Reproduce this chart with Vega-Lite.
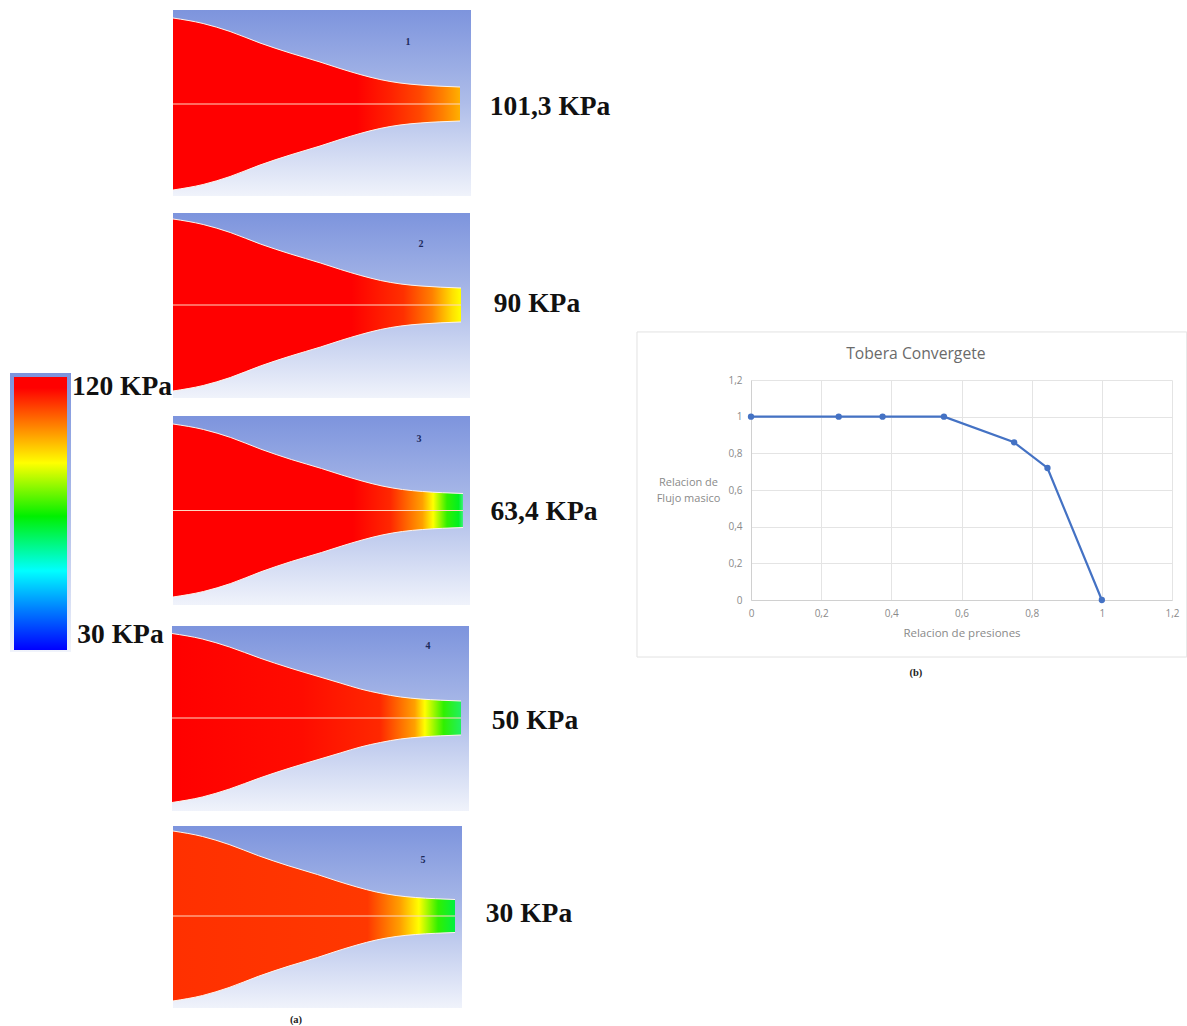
{
"$schema":"https://vega.github.io/schema/vega-lite/v6.json",
"padding":0,
"background":"#ffffff",
"config":{"view":{"stroke":null},"concat":{"spacing":0}},
"bounds":"flush",
"spacing":0,
"datasets":{
"frames":[
{"x":173,"x2":471,"y":10,"y2":196},
{"x":173,"x2":470,"y":213,"y2":398},
{"x":173,"x2":470,"y":416,"y2":605},
{"x":172,"x2":469,"y":626,"y2":811},
{"x":173,"x2":462,"y":826,"y2":1008},
{"x":10,"x2":71,"y":373,"y2":652}
],
"nozzles":[
{"panel":1,"x":173,"y":18,"y2":190},{"panel":1,"x":203.1,"y":23.5,"y2":184.5},{"panel":1,"x":230.1,"y":31.5,"y2":176.5},{"panel":1,"x":260,"y":43,"y2":165},{"panel":1,"x":290.1,"y":53,"y2":155},{"panel":1,"x":320,"y":62,"y2":146},{"panel":1,"x":340,"y":68.5,"y2":139.5},{"panel":1,"x":360.1,"y":74.5,"y2":133.5},{"panel":1,"x":379.9,"y":79.5,"y2":128.5},{"panel":1,"x":400,"y":83,"y2":125},{"panel":1,"x":420.1,"y":85,"y2":123},{"panel":1,"x":439.9,"y":86.2,"y2":121.8},{"panel":1,"x":460,"y":87,"y2":121},
{"panel":2,"x":173,"y":219,"y2":391},{"panel":2,"x":203.2,"y":224.5,"y2":385.5},{"panel":2,"x":230.3,"y":232.5,"y2":377.5},{"panel":2,"x":260.3,"y":244,"y2":366},{"panel":2,"x":290.5,"y":254,"y2":356},{"panel":2,"x":320.5,"y":263,"y2":347},{"panel":2,"x":340.6,"y":269.5,"y2":340.5},{"panel":2,"x":360.8,"y":275.5,"y2":334.5},{"panel":2,"x":380.6,"y":280.5,"y2":329.5},{"panel":2,"x":400.8,"y":284,"y2":326},{"panel":2,"x":421,"y":286,"y2":324},{"panel":2,"x":440.8,"y":287.2,"y2":322.8},{"panel":2,"x":461,"y":288,"y2":322},
{"panel":3,"x":173,"y":424,"y2":597},{"panel":3,"x":203.5,"y":429.5,"y2":591.5},{"panel":3,"x":230.7,"y":437.5,"y2":583.5},{"panel":3,"x":260.9,"y":449.2,"y2":571.8},{"panel":3,"x":291.3,"y":459.5,"y2":561.5},{"panel":3,"x":321.5,"y":468.5,"y2":552.5},{"panel":3,"x":341.8,"y":475,"y2":546},{"panel":3,"x":362.1,"y":481,"y2":540},{"panel":3,"x":382.1,"y":486,"y2":535},{"panel":3,"x":402.4,"y":489.5,"y2":531.5},{"panel":3,"x":422.7,"y":491.5,"y2":529.5},{"panel":3,"x":442.7,"y":492.7,"y2":528.3},{"panel":3,"x":463,"y":493.5,"y2":527.5},
{"panel":4,"x":172,"y":633.5,"y2":802.5},{"panel":4,"x":202.3,"y":639,"y2":797},{"panel":4,"x":229.5,"y":647,"y2":789},{"panel":4,"x":259.6,"y":658,"y2":778},{"panel":4,"x":289.9,"y":668,"y2":768},{"panel":4,"x":320,"y":677,"y2":759},{"panel":4,"x":340.2,"y":683,"y2":753},{"panel":4,"x":360.4,"y":689,"y2":747},{"panel":4,"x":380.4,"y":693.5,"y2":742.5},{"panel":4,"x":400.6,"y":697,"y2":739},{"panel":4,"x":420.8,"y":699,"y2":737},{"panel":4,"x":440.8,"y":700.2,"y2":735.8},{"panel":4,"x":461,"y":701,"y2":735},
{"panel":5,"x":173,"y":831,"y2":1001},{"panel":5,"x":202.6,"y":836.5,"y2":995.5},{"panel":5,"x":229.1,"y":844.5,"y2":987.5},{"panel":5,"x":258.4,"y":855.7,"y2":976.3},{"panel":5,"x":288.1,"y":865.7,"y2":966.3},{"panel":5,"x":317.4,"y":874.5,"y2":957.5},{"panel":5,"x":337.1,"y":881,"y2":951},{"panel":5,"x":356.9,"y":887,"y2":945},{"panel":5,"x":376.3,"y":892,"y2":940},{"panel":5,"x":396.1,"y":895.5,"y2":936.5},{"panel":5,"x":415.8,"y":897.5,"y2":934.5},{"panel":5,"x":435.3,"y":898.7,"y2":933.3},{"panel":5,"x":455,"y":899.5,"y2":932.5}
],
"axes":[
{"x":173,"x2":460,"y":104},{"x":173,"x2":461,"y":305},{"x":173,"x2":463,"y":510.5},{"x":172,"x2":461,"y":718},{"x":173,"x2":455,"y":916}
],
"numbers":[
{"x":408,"y":42,"label":"1"},{"x":421,"y":244,"label":"2"},{"x":419,"y":439,"label":"3"},{"x":428,"y":646,"label":"4"},{"x":423,"y":860,"label":"5"}
],
"labels":[
{"x":550,"y":107,"label":"101,3 KPa"},{"x":537,"y":304,"label":"90 KPa"},{"x":544,"y":512,"label":"63,4 KPa"},{"x":535,"y":721,"label":"50 KPa"},{"x":529,"y":914,"label":"30 KPa"},{"x":122,"y":387,"label":"120 KPa"},{"x":120.5,"y":635,"label":"30 KPa"}
]
},
"hconcat":[
{
"width":751,"height":1026,
"encoding":{
"x":{"field":"x","type":"quantitative","scale":{"domain":[0,751],"nice":false,"zero":false},"axis":null},
"y":{"field":"y","type":"quantitative","scale":{"domain":[0,1026],"reverse":true,"nice":false,"zero":false},"axis":null}
},
"layer":[
{"data":{"name":"frames"},"mark":{"type":"rect","color":{"gradient":"linear","x1":0,"y1":0,"x2":0,"y2":1,"stops":[{"offset":0,"color":"#7d94dd"},{"offset":0.5,"color":"#aebde9"},{"offset":1,"color":"#f0f3fb"}]}},"encoding":{"x2":{"field":"x2"},"y2":{"field":"y2"}}},
{"data":{"values":[{"x":14,"x2":67,"y":377,"y2":650}]},"mark":{"type":"rect","color":{"gradient":"linear","x1":0,"y1":0,"x2":0,"y2":1,"stops":[{"offset":0,"color":"#ff0000"},{"offset":0.04,"color":"#ff0000"},{"offset":0.16,"color":"#ff7000"},{"offset":0.315,"color":"#ffff00"},{"offset":0.51,"color":"#00f000"},{"offset":0.71,"color":"#00ffff"},{"offset":0.85,"color":"#0080ff"},{"offset":1,"color":"#0000ff"}]}},"encoding":{"x2":{"field":"x2"},"y2":{"field":"y2"}}},
{"data":{"name":"nozzles"},"transform":[{"filter":"datum.panel==1"}],"mark":{"type":"area","interpolate":"monotone","color":{"gradient":"linear","x1":0,"y1":0,"x2":1,"y2":0,"stops":[{"offset":0,"color":"#ff0000"},{"offset":0.64,"color":"#ff0000"},{"offset":0.76,"color":"#ff2200"},{"offset":0.86,"color":"#ff4800"},{"offset":0.94,"color":"#ff8000"},{"offset":1,"color":"#ffb000"}]}},"encoding":{"y2":{"field":"y2"}}},
{"data":{"name":"nozzles"},"transform":[{"filter":"datum.panel==2"}],"mark":{"type":"area","interpolate":"monotone","color":{"gradient":"linear","x1":0,"y1":0,"x2":1,"y2":0,"stops":[{"offset":0,"color":"#ff0000"},{"offset":0.62,"color":"#ff0000"},{"offset":0.8,"color":"#ff3000"},{"offset":0.9,"color":"#ff8000"},{"offset":0.97,"color":"#ffe000"},{"offset":1,"color":"#ffff00"}]}},"encoding":{"y2":{"field":"y2"}}},
{"data":{"name":"nozzles"},"transform":[{"filter":"datum.panel==3"}],"mark":{"type":"area","interpolate":"monotone","color":{"gradient":"linear","x1":0,"y1":0,"x2":1,"y2":0,"stops":[{"offset":0,"color":"#ff0000"},{"offset":0.62,"color":"#ff0000"},{"offset":0.75,"color":"#ff2800"},{"offset":0.86,"color":"#ffa000"},{"offset":0.897,"color":"#ffff00"},{"offset":0.945,"color":"#30f000"},{"offset":0.985,"color":"#00f020"},{"offset":1,"color":"#40f080"}]}},"encoding":{"y2":{"field":"y2"}}},
{"data":{"name":"nozzles"},"transform":[{"filter":"datum.panel==4"}],"mark":{"type":"area","interpolate":"monotone","color":{"gradient":"linear","x1":0,"y1":0,"x2":1,"y2":0,"stops":[{"offset":0,"color":"#ff0000"},{"offset":0.45,"color":"#ff0c00"},{"offset":0.72,"color":"#ff2800"},{"offset":0.84,"color":"#ffa000"},{"offset":0.875,"color":"#ffff00"},{"offset":0.94,"color":"#30f000"},{"offset":1,"color":"#20f060"}]}},"encoding":{"y2":{"field":"y2"}}},
{"data":{"name":"nozzles"},"transform":[{"filter":"datum.panel==5"}],"mark":{"type":"area","interpolate":"monotone","color":{"gradient":"linear","x1":0,"y1":0,"x2":1,"y2":0,"stops":[{"offset":0,"color":"#ff3000"},{"offset":0.69,"color":"#ff3800"},{"offset":0.806,"color":"#ffa000"},{"offset":0.872,"color":"#ffff00"},{"offset":0.94,"color":"#30f000"},{"offset":1,"color":"#00f040"}]}},"encoding":{"y2":{"field":"y2"}}},
{"data":{"name":"nozzles"},"mark":{"type":"line","interpolate":"monotone","color":"#fff4ea","strokeWidth":1},"encoding":{"detail":{"field":"panel"}}},
{"data":{"name":"nozzles"},"mark":{"type":"line","interpolate":"monotone","color":"#fff4ea","strokeWidth":1},"encoding":{"detail":{"field":"panel"},"y":{"field":"y2","type":"quantitative","scale":{"domain":[0,1026],"reverse":true,"nice":false,"zero":false},"axis":null}}},
{"data":{"name":"axes"},"mark":{"type":"rule","color":"#ffd8c0","strokeWidth":1},"encoding":{"x2":{"field":"x2"}}},
{"data":{"name":"numbers"},"mark":{"type":"text","font":"Liberation Serif","fontWeight":"bold","fontSize":10,"color":"#1c2a5c","align":"center","baseline":"middle"},"encoding":{"text":{"field":"label"}}},
{"data":{"name":"labels"},"mark":{"type":"text","font":"Liberation Serif","fontWeight":"bold","fontSize":27.5,"color":"#111111","align":"center","baseline":"middle"},"encoding":{"text":{"field":"label"}}},
{"data":{"values":[{"x":296,"y":1020,"label":"(a)"}]},"mark":{"type":"text","font":"Liberation Serif","fontWeight":"bold","fontSize":10.5,"color":"#222222","align":"center","baseline":"middle"},"encoding":{"text":{"field":"label"}}}
]
},
{
"bounds":"flush",
"spacing":0,
"vconcat":[
{"width":421,"height":380,"data":{"values":[{"label":""}]},"mark":{"type":"text"},"encoding":{"text":{"field":"label"}}},
{
"width":421,"height":220,
"encoding":{
"x":{"field":"x","type":"quantitative","title":"Relacion de presiones","scale":{"domain":[0,1.2],"nice":false,"zero":false},
"axis":{"values":[0,0.2,0.4,0.6,0.8,1,1.2],"labelExpr":"replace(format(datum.value,'~g'),'.',',')","labelFont":"Open Sans","labelFontSize":10,"labelColor":"#8a8a8a","titleFont":"Open Sans","titleFontSize":11.5,"titleFontWeight":"normal","titleColor":"#8a8a8a","titlePadding":9,"labelPadding":8,"ticks":false,"domainColor":"#d0d0d0","gridColor":"#e4e4e4","grid":true,"labelFlush":false}},
"y":{"field":"y","type":"quantitative","title":["Relacion de","Flujo masico"],"scale":{"domain":[0,1.2],"nice":false,"zero":false},
"axis":{"values":[0,0.2,0.4,0.6,0.8,1,1.2],"labelExpr":"replace(format(datum.value,'~g'),'.',',')","labelFont":"Open Sans","labelFontSize":10,"labelColor":"#8a8a8a","titleFont":"Open Sans","titleFontSize":11,"titleFontWeight":"normal","titleColor":"#8a8a8a","titleAngle":0,"titleAlign":"center","titleBaseline":"middle","titleX":-63,"titleY":102,"titleLineHeight":16,"labelPadding":9,"ticks":false,"domainColor":"#d0d0d0","gridColor":"#e4e4e4","grid":true}}
},
"layer":[
{"data":{"values":[{"x":-0.325,"x2":1.242,"y":-0.311,"y2":1.462}]},"mark":{"type":"rect","filled":false,"stroke":"#e2e2e2","strokeWidth":1},"encoding":{"x2":{"field":"x2"},"y2":{"field":"y2"}}},
{"data":{"name":"curve","values":[{"x":0,"y":1},{"x":0.25,"y":1},{"x":0.375,"y":1},{"x":0.55,"y":1},{"x":0.75,"y":0.86},{"x":0.845,"y":0.72},{"x":1,"y":0}]},"mark":{"type":"line","color":"#4472c4","strokeWidth":2.2,"point":{"filled":true,"color":"#4472c4","size":40}}},
{"data":{"values":[{"x":0.47,"y":1.342,"label":"Tobera Convergete"}]},"mark":{"type":"text","font":"Open Sans","fontSize":15.7,"color":"#6a6a6a","align":"center","baseline":"middle"},"encoding":{"text":{"field":"label"}}},
{"data":{"values":[{"x":0.47,"y":-0.398,"label":"(b)"}]},"mark":{"type":"text","font":"Liberation Serif","fontWeight":"bold","fontSize":10.5,"color":"#222222","align":"center","baseline":"middle"},"encoding":{"text":{"field":"label"}}}
]
}
]
}
]
}
